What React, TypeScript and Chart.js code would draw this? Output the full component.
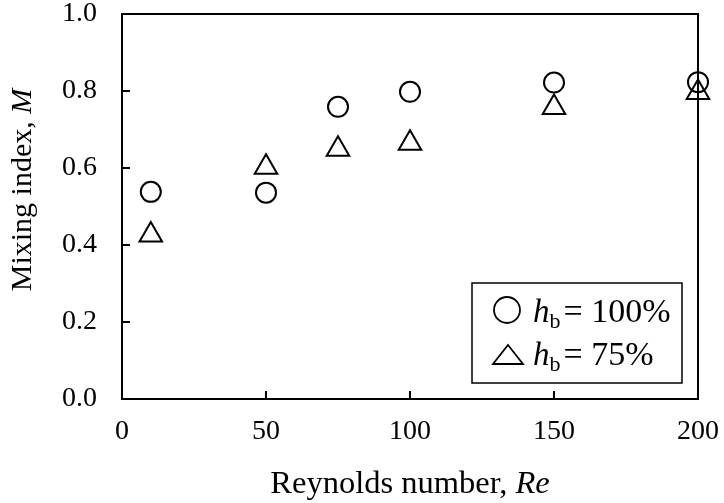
import React, { useEffect, useRef } from "react";
import { Chart, registerables } from "chart.js";

Chart.register(...registerables);

const reynolds = [10, 50, 75, 100, 150, 200];
const mixing100 = [0.538, 0.536, 0.759, 0.798, 0.822, 0.823];
const mixing75 = [0.426, 0.602, 0.649, 0.664, 0.757, 0.796];
const xTickValues = [0, 50, 100, 150, 200];
const yTickValues = [0, 0.2, 0.4, 0.6, 0.8, 1.0];
const legendLabels = ["100%", "75%"];
const xTitle = ["Reynolds number, ", "Re"];
const yTitle = ["Mixing index, ", "M"];

const FONT = "'Liberation Serif', 'Times New Roman', serif";

const framePlugin = {
  id: "frame",
  afterDraw(chart: any) {
    const ctx = chart.ctx as CanvasRenderingContext2D;
    const { left, right, top, bottom } = chart.chartArea;
    const xs = chart.scales.x;
    const ys = chart.scales.y;
    ctx.save();
    ctx.strokeStyle = "#000";
    ctx.lineWidth = 2;
    ctx.strokeRect(left, top, right - left, bottom - top);
    ctx.beginPath();
    yTickValues.forEach((v) => {
      const py = Math.round(ys.getPixelForValue(v));
      ctx.moveTo(left, py);
      ctx.lineTo(left + 8, py);
    });
    xTickValues.forEach((v) => {
      const px = Math.round(xs.getPixelForValue(v));
      ctx.moveTo(px, bottom);
      ctx.lineTo(px, bottom - 8);
    });
    ctx.stroke();

    // x title
    ctx.fillStyle = "#000";
    ctx.textBaseline = "alphabetic";
    const xf = 32.5;
    ctx.font = `${xf}px ${FONT}`;
    const w1 = ctx.measureText(xTitle[0]).width;
    ctx.font = `italic ${xf}px ${FONT}`;
    const w2 = ctx.measureText(xTitle[1]).width;
    const cx = (left + right) / 2;
    const sx = cx - (w1 + w2) / 2;
    ctx.font = `${xf}px ${FONT}`;
    ctx.fillText(xTitle[0], sx, 493);
    ctx.font = `italic ${xf}px ${FONT}`;
    ctx.fillText(xTitle[1], sx + w1, 493);

    // y title
    ctx.save();
    ctx.translate(31, 190);
    ctx.rotate(-Math.PI / 2);
    ctx.font = `30px ${FONT}`;
    const v1 = ctx.measureText(yTitle[0]).width;
    ctx.font = `italic 30px ${FONT}`;
    const v2 = ctx.measureText(yTitle[1]).width;
    const sy = -(v1 + v2) / 2;
    ctx.font = `30px ${FONT}`;
    ctx.fillText(yTitle[0], sy, 0);
    ctx.font = `italic 30px ${FONT}`;
    ctx.fillText(yTitle[1], sy + v1, 0);
    ctx.restore();

    // legend
    const lx = 472, ly = 283, lw = 210, lh = 100;
    ctx.fillStyle = "#fff";
    ctx.fillRect(lx, ly, lw, lh);
    ctx.lineWidth = 1.5;
    ctx.strokeStyle = "#000";
    ctx.strokeRect(lx, ly, lw, lh);

    ctx.lineWidth = 1.8;
    ctx.beginPath();
    ctx.arc(507, 310, 13, 0, Math.PI * 2);
    ctx.stroke();
    ctx.beginPath();
    ctx.moveTo(508, 345);
    ctx.lineTo(523, 364);
    ctx.lineTo(493, 364);
    ctx.closePath();
    ctx.stroke();

    const rows = [322, 365];
    rows.forEach((base, i) => {
      ctx.fillStyle = "#000";
      ctx.font = `italic 33px ${FONT}`;
      let x = 533;
      ctx.fillText("h", x, base);
      x += ctx.measureText("h").width;
      ctx.font = `22px ${FONT}`;
      ctx.fillText("b", x, base + 6);
      x += ctx.measureText("b").width + 3;
      ctx.font = `34px ${FONT}`;
      ctx.fillText("= " + legendLabels[i], x, base);
    });
    ctx.restore();
  },
};

export default function App() {
  const ref = useRef<HTMLCanvasElement | null>(null);
  useEffect(() => {
    if (!ref.current) return;
    const chart = new Chart(ref.current, {
      type: "scatter",
      data: {
        datasets: [
          {
            label: "h_b = 100%",
            data: reynolds.map((x, i) => ({ x, y: mixing100[i] })),
            pointStyle: "circle",
            pointRadius: 10,
            pointBorderWidth: 2,
            borderColor: "#000",
            backgroundColor: "rgba(0,0,0,0)",
            pointBackgroundColor: "rgba(0,0,0,0)",
            pointBorderColor: "#000",
            clip: false,
          },
          {
            label: "h_b = 75%",
            data: reynolds.map((x, i) => ({ x, y: mixing75[i] })),
            pointStyle: "triangle",
            pointRadius: 13,
            pointBorderWidth: 2,
            borderColor: "#000",
            backgroundColor: "rgba(0,0,0,0)",
            pointBackgroundColor: "rgba(0,0,0,0)",
            pointBorderColor: "#000",
            clip: false,
          },
        ],
      },
      options: {
        animation: false,
        responsive: false,
        layout: { autoPadding: false, padding: { left: 0, right: 26, top: 14, bottom: 0 } },
        plugins: {
          legend: { display: false },
          tooltip: { enabled: false },
        },
        scales: {
          x: {
            type: "linear",
            min: 0,
            max: 200,
            grid: { display: false, drawTicks: false },
            border: { display: false },
            afterBuildTicks: (s: any) => {
              s.ticks = xTickValues.map((v) => ({ value: v }));
            },
            afterFit: (s: any) => {
              s.height = 104;
              s.paddingLeft = 0;
              s.paddingRight = 0;
              s.paddingTop = 0;
              s.paddingBottom = 0;
            },
            ticks: {
              padding: 19,
              color: "#000",
              maxRotation: 0,
              font: { family: FONT, size: 28, lineHeight: 1 },
              callback: (v: any) => String(v),
            },
          },
          y: {
            type: "linear",
            min: 0,
            max: 1,
            grid: { display: false, drawTicks: false },
            border: { display: false },
            afterBuildTicks: (s: any) => {
              s.ticks = yTickValues.map((v) => ({ value: v }));
            },
            afterFit: (s: any) => {
              s.width = 122;
              s.paddingLeft = 0;
              s.paddingRight = 0;
              s.paddingTop = 0;
              s.paddingBottom = 0;
            },
            ticks: {
              padding: 25,
              color: "#000",
              font: { family: FONT, size: 28, lineHeight: 1 },
              callback: (v: any) => Number(v).toFixed(1),
            },
          },
        },
      },
      plugins: [framePlugin],
    });
    return () => chart.destroy();
  }, []);
  return (
    <div style={{ position: "fixed", left: 0, top: 0, width: 724, height: 503, background: "#fff" }}>
      <canvas ref={ref} width={724} height={503} style={{ display: "block" }} />
    </div>
  );
}
